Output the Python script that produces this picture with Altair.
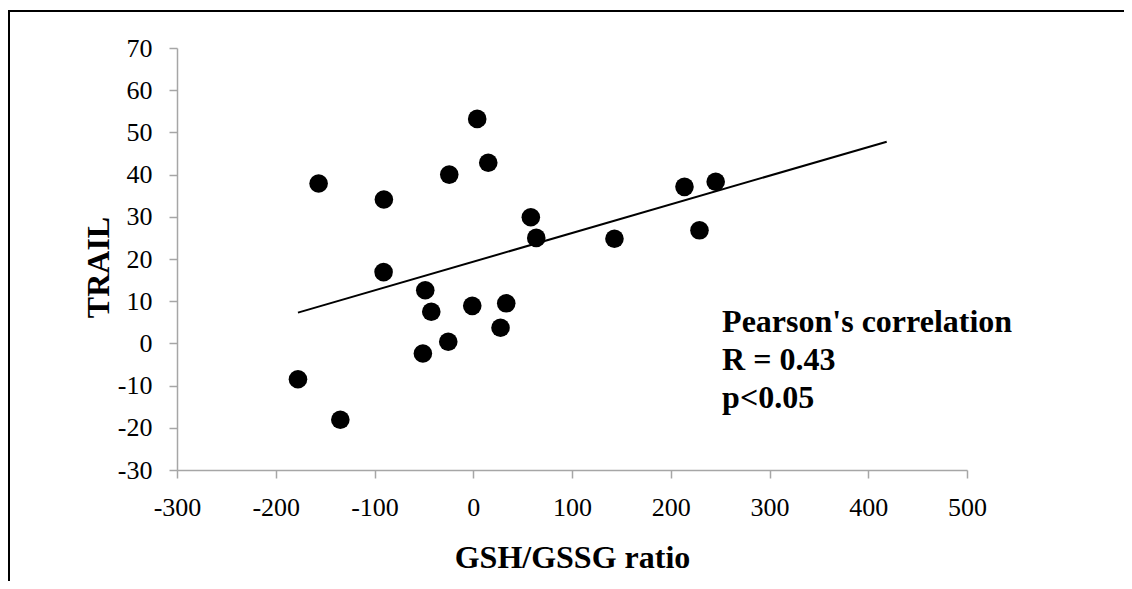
import altair as alt
import pandas as pd

# GSH/GSSG ratio (x) and TRAIL (y)
gsh_ratio = [-177.5, -134.6, -156.6, -90.5, -90.8, -48.6, -42.5, -51.0, -25.3, -1.0,
             -24.3, 4.0, 15.2, 27.6, 33.4, 58.3, 63.8, 143.0, 213.9, 229.1, 245.5]
trail = [-8.5, -18.1, 37.9, 34.1, 16.9, 12.6, 7.5, -2.4, 0.4, 8.9,
         40.0, 53.2, 42.8, 3.7, 9.5, 29.9, 25.0, 24.8, 37.1, 26.8, 38.3]

# linear trend line end points
trend_x = [-177.5, 418.7]
trend_y = [7.3, 47.8]

x_ticks = [-300, -200, -100, 0, 100, 200, 300, 400, 500]
y_ticks = [-30, -20, -10, 0, 10, 20, 30, 40, 50, 60, 70]

annot_lines = ["Pearson's correlation", "R = 0.43", "p<0.05"]
annot_x = [252]
annot_y = [2.7]

pts = pd.DataFrame({"x": gsh_ratio, "y": trail})
trend = pd.DataFrame({"x": trend_x, "y": trend_y})
annot = pd.DataFrame({"x": annot_x, "y": annot_y, "t": [annot_lines]})

SERIF = "Liberation Serif"
AXIS_GRAY = "#A6A6A6"

xscale = alt.Scale(domain=[-300, 500], nice=False, zero=False)
yscale = alt.Scale(domain=[-30, 70], nice=False, zero=False)

xaxis = alt.Axis(
    values=x_ticks, grid=False, domainColor=AXIS_GRAY, domainWidth=1.5,
    tickColor=AXIS_GRAY, tickWidth=1.5, tickSize=8, labelPadding=16,
    labelFont=SERIF, labelFontSize=26, labelColor="black",
    labelExpr="'' + datum.value",
    labelFlush=False, labelOverlap=False, labelBound=False,
    title="GSH/GSSG ratio", titleFont=SERIF, titleFontSize=32,
    titleFontWeight="bold", titleColor="black",
    titleBaseline="alphabetic", titleY=97,
)
yaxis = alt.Axis(
    values=y_ticks, grid=False, domainColor=AXIS_GRAY, domainWidth=1.5,
    tickColor=AXIS_GRAY, tickWidth=1.5, tickSize=8, labelPadding=17,
    labelFont=SERIF, labelFontSize=26, labelColor="black",
    labelExpr="'' + datum.value",
    labelFlush=False, labelOverlap=False, labelBound=False,
    title="TRAIL", titleFont=SERIF, titleFontSize=32,
    titleFontWeight="bold", titleColor="black",
    titleBaseline="alphabetic", titleX=-69, titleY=219, titleAngle=270,
)

points = alt.Chart(pts).mark_circle(size=346, color="black", opacity=1).encode(
    x=alt.X("x:Q", scale=xscale, axis=xaxis),
    y=alt.Y("y:Q", scale=yscale, axis=yaxis),
)

line = alt.Chart(trend).mark_line(color="black", strokeWidth=2).encode(
    x=alt.X("x:Q", scale=xscale),
    y=alt.Y("y:Q", scale=yscale),
)

text = alt.Chart(annot).mark_text(
    align="left", baseline="alphabetic", font=SERIF, fontSize=32,
    fontWeight="bold", color="black", lineHeight=38,
).encode(
    x=alt.X("x:Q", scale=xscale),
    y=alt.Y("y:Q", scale=yscale),
    text="t",
)

# outer frame (top and left edges, as in the reference)
frame_top = alt.Chart(pts).mark_rule(color="black", strokeWidth=2).encode(
    x=alt.value(-169), x2=alt.value(960), y=alt.value(-37),
)
frame_left = alt.Chart(pts).mark_rule(color="black", strokeWidth=2).encode(
    x=alt.value(-168), y=alt.value(-38), y2=alt.value(540),
)

chart = alt.layer(frame_top, frame_left, line, points, text).properties(
    width=790, height=422,
    padding={"left": 169, "top": 40, "right": 157, "bottom": 111},
    autosize=alt.AutoSizeParams(type="none"),
    background="white",
).configure_view(stroke=None)

chart.save("out.html", embed_options={"renderer": "svg", "actions": False})
